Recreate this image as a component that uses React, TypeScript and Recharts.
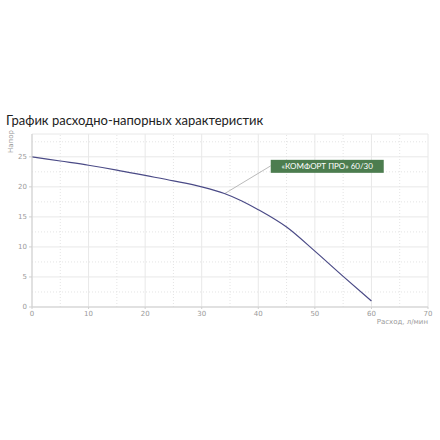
import React from 'react'
import {
    LineChart,
    Line,
    XAxis,
    YAxis,
    CartesianGrid,
    ReferenceLine,
    ReferenceDot,
} from 'recharts'

// Расход, л/мин
const flow = [0, 5, 10, 15, 20, 25, 30, 34, 37, 40, 45, 50, 55, 60]
// Напор, м
const head = [25, 24.3, 23.6, 22.8, 21.9, 21.0, 20.0, 18.9, 17.7, 16.2, 13.3, 9.3, 5.1, 1.0]

const xTicks = [0, 10, 20, 30, 40, 50, 60, 70]
const yTicks = [0, 5, 10, 15, 20, 25]
const xMinor = [5, 15, 25, 35, 45, 55, 65]
const yMinor = [2.5, 7.5, 12.5, 17.5, 22.5, 27.5]

const seriesName = '«КОМФОРТ ПРО» 60/30'
const calloutFrom = { x: 34.1, y: 18.9 }
const calloutTo = { x: 42.2, y: 23.5 }

const data = flow.map((q, i) => ({ q, h: head[i] }))

const tickStyle = { fill: '#9a9a9a', fontSize: 7, fontFamily: 'DejaVu Sans' }

// green label box anchored at its left edge
const CalloutBox = (props: any) => {
    const { cx, cy } = props
    if (cx == null || cy == null) return null
    const w = 113
    const h = 13
    return (
        <g>
            <rect x={cx} y={cy - 6} width={w} height={h} fill="#4c7d4f" />
            <text
                x={cx + w / 2}
                y={cy + 3}
                textAnchor="middle"
                fill="#ffffff"
                fontSize={8}
                fontFamily="Lato"
            >
                {seriesName}
            </text>
        </g>
    )
}

export default function App() {
    return (
        <div
            style={{
                position: 'absolute',
                left: 0,
                top: 0,
                width: 440,
                height: 440,
                background: '#ffffff',
                fontFamily: 'Lato',
            }}
        >
            <div
                style={{
                    position: 'absolute',
                    left: 6,
                    top: 112,
                    fontSize: 13,
                    color: '#222',
                    whiteSpace: 'nowrap',
                }}
            >
                График расходно-напорных характеристик
            </div>
            <div
                style={{
                    position: 'absolute',
                    left: 7,
                    top: 133,
                    width: 10,
                    height: 20,
                    writingMode: 'vertical-rl',
                    transform: 'rotate(180deg)',
                    fontSize: 7,
                    color: '#9a9a9a',
                    fontFamily: 'DejaVu Sans',
                }}
            >
                Напор
            </div>
            <div
                style={{
                    position: 'absolute',
                    right: 12,
                    top: 318,
                    fontSize: 7,
                    color: '#9a9a9a',
                    fontFamily: 'DejaVu Sans',
                    whiteSpace: 'nowrap',
                }}
            >
                Расход, л/мин
            </div>
            <LineChart
                width={440}
                height={440}
                data={data}
                margin={{ top: 134, right: 12, bottom: 113, left: 12 }}
            >
                <CartesianGrid stroke="#e8e8e8" strokeWidth={1} />
                {xMinor.map((v) => (
                    <ReferenceLine key={`x${v}`} x={v} stroke="#e4e4e4" strokeDasharray="1 2" />
                ))}
                {yMinor.map((v) => (
                    <ReferenceLine key={`y${v}`} y={v} stroke="#e4e4e4" strokeDasharray="1 2" />
                ))}
                <XAxis
                    dataKey="q"
                    type="number"
                    domain={[0, 70]}
                    ticks={xTicks}
                    tick={tickStyle}
                    tickSize={2}
                    axisLine={{ stroke: '#cfcfcf' }}
                    tickLine={{ stroke: '#cfcfcf' }}
                    height={20}
                    interval={0}
                />
                <YAxis
                    type="number"
                    domain={[0, 28.8]}
                    ticks={yTicks}
                    tick={tickStyle}
                    tickSize={3}
                    axisLine={{ stroke: '#cfcfcf' }}
                    tickLine={{ stroke: '#cfcfcf' }}
                    width={20}
                    interval={0}
                    allowDataOverflow
                />
                <ReferenceLine
                    segment={[calloutFrom, calloutTo]}
                    stroke="#a8a8a8"
                    strokeWidth={0.8}
                />
                <Line
                    type="monotone"
                    dataKey="h"
                    stroke="#4a4a86"
                    strokeWidth={1.2}
                    dot={false}
                    isAnimationActive={false}
                />
                <ReferenceDot
                    x={calloutTo.x}
                    y={calloutTo.y}
                    r={0}
                    shape={CalloutBox}
                />
            </LineChart>
        </div>
    )
}
